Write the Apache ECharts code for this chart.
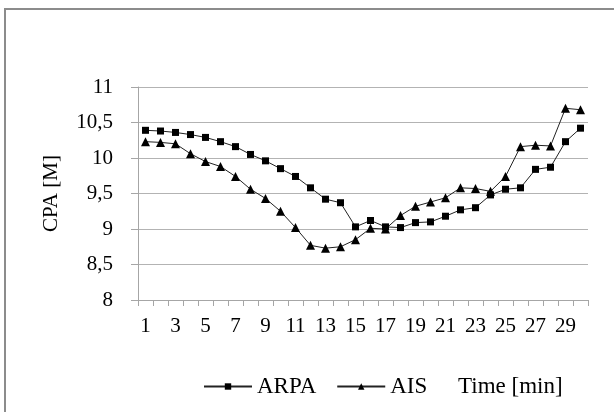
<!DOCTYPE html>
<html>
<head>
<meta charset="utf-8">
<script src="https://cdn.jsdelivr.net/npm/echarts@6/dist/echarts.min.js"></script>
<style>
  html, body { margin: 0; padding: 0; background: #fff; }
  #main { width: 614px; height: 412px; }
</style>
</head>
<body>
<div id="main"></div>
<script>
var minutes = ['1','2','3','4','5','6','7','8','9','10','11','12','13','14','15',
               '16','17','18','19','20','21','22','23','24','25','26','27','28','29','30'];
var arpa = [10.39, 10.38, 10.36, 10.33, 10.29, 10.23, 10.16, 10.05, 9.96, 9.85,
            9.74, 9.58, 9.42, 9.37, 9.03, 9.12, 9.03, 9.02, 9.09, 9.10,
            9.18, 9.27, 9.30, 9.48, 9.56, 9.58, 9.84, 9.87, 10.23, 10.42];
var ais = [10.23, 10.22, 10.20, 10.06, 9.95, 9.88, 9.74, 9.56, 9.43, 9.25,
           9.02, 8.77, 8.73, 8.75, 8.85, 9.01, 9.00, 9.19, 9.32, 9.38,
           9.44, 9.58, 9.57, 9.53, 9.74, 10.16, 10.18, 10.17, 10.70, 10.68];

var font = '"Liberation Serif", "Times New Roman", serif';
var myChart = echarts.init(document.getElementById('main'));

var option = {
  animation: false,
  backgroundColor: '#fff',
  textStyle: { fontFamily: font },
  graphic: [{
    type: 'rect',
    shape: { x: 5, y: 9, width: 700, height: 500 },
    style: { fill: 'none', stroke: '#8c8c8c', lineWidth: 2 }
  }],
  title: {
    text: 'Time [min]',
    left: 453, top: 370,
    textStyle: { fontFamily: font, fontSize: 23, fontWeight: 'normal', color: '#000' }
  },
  legend: {
    left: 198, top: 370,
    itemWidth: 48, itemHeight: 8,
    itemGap: 20,
    textStyle: { fontFamily: font, fontSize: 23, color: '#000' },
    data: ['ARPA', 'AIS']
  },
  grid: { left: 138, right: 26, top: 87, bottom: 112 },
  xAxis: {
    type: 'category',
    data: minutes,
    boundaryGap: true,
    axisLine: { lineStyle: { color: '#a6a6a6', width: 1 } },
    axisTick: { show: true, interval: 0, length: 6, lineStyle: { color: '#a6a6a6' } },
    axisLabel: { interval: 1, margin: 16, fontFamily: font, fontSize: 21, color: '#000' },
    splitLine: { show: false }
  },
  yAxis: {
    type: 'value',
    min: 8, max: 11, interval: 0.5,
    name: 'CPA [M]',
    nameLocation: 'middle',
    nameGap: 76,
    nameTextStyle: { fontFamily: font, fontSize: 21, color: '#000' },
    axisLine: { show: true, lineStyle: { color: '#a6a6a6', width: 1 } },
    axisTick: { show: true, length: 7, lineStyle: { color: '#a6a6a6' } },
    axisLabel: {
      margin: 25, fontFamily: font, fontSize: 21, color: '#000',
      formatter: function (v) { return String(v).replace('.', ','); }
    },
    splitLine: { lineStyle: { color: '#b3b3b3', width: 1 } }
  },
  series: [{
    name: 'ARPA',
    type: 'line',
    data: arpa,
    symbol: 'rect',
    symbolSize: 7,
    lineStyle: { color: '#222', width: 1 },
    itemStyle: { color: '#000' }
  }, {
    name: 'AIS',
    type: 'line',
    data: ais,
    symbol: 'triangle',
    symbolSize: 9,
    lineStyle: { color: '#222', width: 1 },
    itemStyle: { color: '#000' }
  }]
};

myChart.setOption(option);
</script>
</body>
</html>
